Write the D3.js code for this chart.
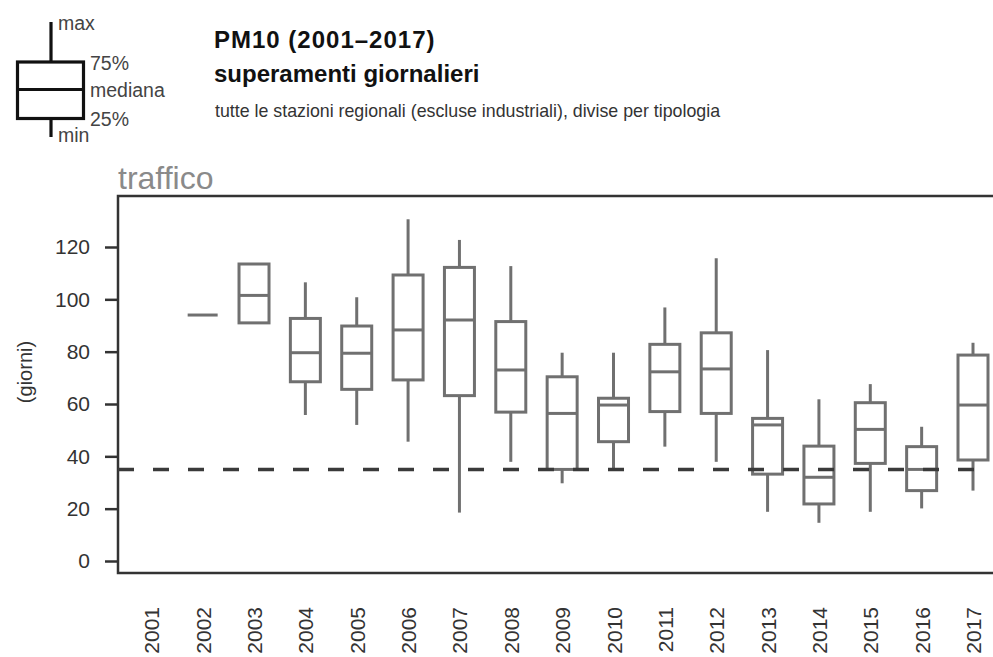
<!DOCTYPE html>
<html>
<head>
<meta charset="utf-8">
<script src="https://cdn.jsdelivr.net/npm/d3@7"></script>
<style>
  html, body { margin: 0; padding: 0; background: #fff; }
  svg { display: block; font-family: "Liberation Sans", Arial, Helvetica, sans-serif; }
</style>
</head>
<body>
<svg id="chart" width="993" height="657"></svg>
<script>
// ---- data ----
const years   = [2001,2002,2003,2004,2005,2006,2007,2008,2009,2010,2011,2012,2013,2014,2015,2016,2017];
const mins    = [null, 94, 91,   55.8, 52,   45.6, 18.5, 37.9, 29.7, 35,   43.7, 37.9, 18.8, 14.6, 18.8, 20.1, 26.9];
const q1s     = [null, 94, 91,   68.5, 65.6, 69.2, 63.2, 56.9, 35,   45.6, 57.1, 56.4, 33.2, 21.8, 37.3, 26.9, 38.6];
const medians = [null, 94, 101.5,79.6, 79.4, 88.3, 92.1, 73,   56.4, 59.6, 72.3, 73.4, 52,   32,   50.3, 35,   59.6];
const q3s     = [null, 94, 113.5,92.7, 89.8, 109.3,112.2,91.5, 70.4, 62.2, 82.8, 87.2, 54.5, 43.9, 60.5, 43.7, 78.7];
const maxs    = [null, 94, 113.5,106.5,100.8,130.6,122.7,112.7,79.6, 79.6, 96.9, 115.7,80.6, 61.8, 67.6, 51.3, 83.4];
const yTicks  = [0, 20, 40, 60, 80, 100, 120];
const limitValue = 35;
const panelTitle = "traffico";
const yAxisTitle = "(giorni)";
const title1 = "PM10 (2001\u20132017)";
const title2 = "superamenti giornalieri";
const subtitle = "tutte le stazioni regionali (escluse industriali), divise per tipologia";
const legendLabels = ["max", "75%", "mediana", "25%", "min"];

const data = years.map((yr, i) => ({
  year: yr, min: mins[i], q1: q1s[i], med: medians[i], q3: q3s[i], max: maxs[i]
})).filter(d => d.med !== null);

// ---- layout ----
const svg = d3.select("#chart");
const frame = { left: 118, top: 196, right: 993, bottom: 573 };
const x = d3.scalePoint().domain(years).range([151.3, 973]);
const y = d3.scaleLinear().domain([0, 120]).range([561, 247]);
const boxW = 30;
const boxColor = "#707070";
const axisColor = "#333";

// ---- titles ----
svg.append("text").attr("x", 214).attr("y", 48).attr("font-size", 24).attr("font-weight", "bold")
  .attr("fill", "#111").attr("letter-spacing", 1).text(title1);
svg.append("text").attr("x", 214).attr("y", 82).attr("font-size", 24).attr("font-weight", "bold")
  .attr("fill", "#111").text(title2);
svg.append("text").attr("x", 215).attr("y", 117).attr("font-size", 17.8)
  .attr("fill", "#333").text(subtitle);

// ---- legend ----
const lg = svg.append("g").attr("stroke", "#111").attr("stroke-width", 3.2).attr("fill", "none");
lg.append("line").attr("x1", 51).attr("x2", 51).attr("y1", 22).attr("y2", 62);
lg.append("rect").attr("x", 17.5).attr("y", 62).attr("width", 66).attr("height", 56.5);
lg.append("line").attr("x1", 17.5).attr("x2", 83.5).attr("y1", 89.5).attr("y2", 89.5);
lg.append("line").attr("x1", 51).attr("x2", 51).attr("y1", 118.5).attr("y2", 137);
const legPos = [[58, 30], [90, 70], [90, 97], [90, 126], [58, 142]];
legendLabels.forEach((t, i) => {
  svg.append("text").attr("x", legPos[i][0]).attr("y", legPos[i][1]).attr("font-size", 19.5)
    .attr("fill", "#444").text(t);
});

// ---- panel title ----
svg.append("text").attr("x", 118).attr("y", 189).attr("font-size", 32)
  .attr("fill", "#8a8a8a").text(panelTitle);

// ---- y axis ----
const yAxis = d3.axisLeft(y).tickValues(yTicks).tickSize(13).tickPadding(15);
const gy = svg.append("g").attr("transform", `translate(${frame.left},0)`).call(yAxis);
gy.select(".domain").remove();
gy.selectAll(".tick line").attr("stroke", axisColor).attr("stroke-width", 2.5);
gy.selectAll(".tick text").attr("font-size", 21).attr("fill", "#333")
  .attr("font-family", "Liberation Sans, Arial, sans-serif");

svg.append("text").attr("transform", `translate(32,372) rotate(-90)`)
  .attr("text-anchor", "middle").attr("font-size", 20).attr("fill", "#333").text(yAxisTitle);

// ---- x axis labels ----
const xAxis = d3.axisBottom(x).tickSize(0).tickPadding(0);
const gx = svg.append("g").attr("transform", `translate(0,${frame.bottom})`).call(xAxis);
gx.select(".domain").remove();
gx.selectAll(".tick text")
  .attr("font-size", 21).attr("fill", "#333").attr("font-family", "Liberation Sans, Arial, sans-serif")
  .attr("text-anchor", "end").attr("dy", null)
  .attr("transform", "translate(7.5,34) rotate(-90)").attr("y", 0).attr("x", 0);

// ---- frame ----
const fr = svg.append("g").attr("stroke", axisColor).attr("stroke-width", 2.5).attr("fill", "none");
fr.append("path").attr("d",
  `M${frame.right},${frame.top} H${frame.left} V${frame.bottom} H${frame.right}`);

// ---- boxes ----
const bg = svg.append("g").attr("stroke", boxColor).attr("stroke-width", 3).attr("fill", "none");
const box = bg.selectAll("g.box").data(data).enter().append("g").attr("class", "box");
box.append("line").attr("x1", d => x(d.year)).attr("x2", d => x(d.year))
  .attr("y1", d => y(d.max)).attr("y2", d => y(d.q3));
box.append("line").attr("x1", d => x(d.year)).attr("x2", d => x(d.year))
  .attr("y1", d => y(d.q1)).attr("y2", d => y(d.min));
box.append("rect").attr("x", d => x(d.year) - boxW / 2).attr("width", boxW)
  .attr("y", d => y(d.q3)).attr("height", d => y(d.q1) - y(d.q3));
box.append("line").attr("x1", d => x(d.year) - boxW / 2).attr("x2", d => x(d.year) + boxW / 2)
  .attr("y1", d => y(d.med)).attr("y2", d => y(d.med));

// ---- limit line ----
svg.append("line").attr("x1", frame.left).attr("x2", frame.right)
  .attr("y1", y(limitValue)).attr("y2", y(limitValue))
  .attr("stroke", "#3a3a3a").attr("stroke-width", 3.5).attr("stroke-dasharray", "16,19");
</script>
</body>
</html>
